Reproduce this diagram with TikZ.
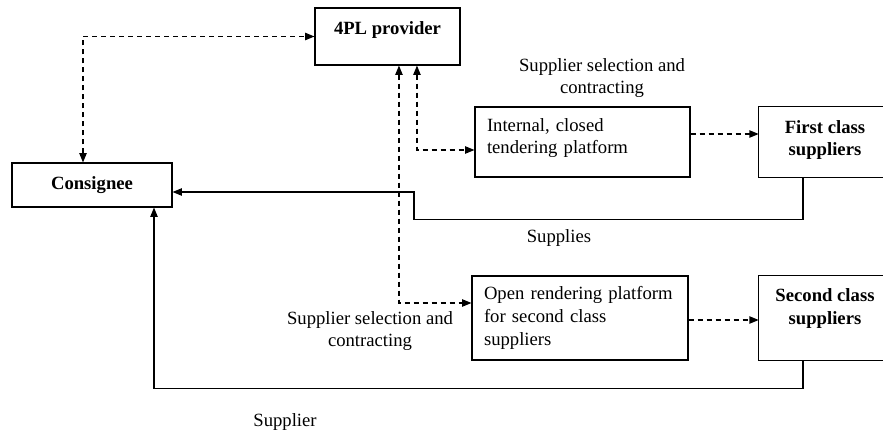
\documentclass[tikz,border=0pt]{standalone}
\usepackage{fontspec}
\setmainfont{Liberation Serif}
\usetikzlibrary{arrows.meta,positioning}

\begin{document}
\begin{tikzpicture}[x=0.75pt,y=-0.75pt,
                >={Triangle[length=7pt,width=5.5pt]},
                every node/.style = {font=\fontsize{14}{17}\selectfont},
                box/.style = {draw, rectangle, line width=0.8pt, inner sep=0pt},
                open box/.style = {rectangle, inner sep=0pt},
                bold/.style = {font=\fontsize{14}{17}\selectfont\bfseries, align=center},
                edge/.style = {line width=0.8pt},
                flow/.style = {line width=0.9pt, ->},
                link/.style = {line width=0.9pt, dash pattern=on 3.75pt off 3pt}]
                \useasboundingbox (0,0) rectangle (883,432);
                \node[box, bold, minimum width=108.75pt, minimum height=42.75pt,
                      text height=10pt, text depth=12.5pt] (prov) at (387.5,36.5) {4PL provider};
                \node[box, bold, minimum width=120pt, minimum height=33pt] (cons) at (92,185) {Consignee};
                \node[box, minimum width=161.25pt, minimum height=52.5pt, text width=143.25pt,
                      align=left, text height=10pt, text depth=26pt] (int) at (582.5,142) {Internal, closed\\tendering platform};
                \node[open box, bold, minimum width=99pt, minimum height=52.5pt,
                      text height=27pt, text depth=6.3pt] (first) at (825,142) {First class\\suppliers};
                \node[box, minimum width=162pt, minimum height=63pt,
                      text width=144pt, align=left] (open) at (580,318) {Open rendering platform\\for second class\\suppliers};
                \node[open box, bold, minimum width=99pt, minimum height=63pt,
                      text height=27pt, text depth=17.5pt] (second) at (825,318) {Second class\\suppliers};
                \draw[edge] ([xshift=30pt]first.north east) -- (first.north west) -- (first.south west) -- ([xshift=30pt]first.south east);
                \draw[edge] ([xshift=30pt]second.north east) -- (second.north west) -- (second.south west) -- ([xshift=30pt]second.south east);
                \node[align=center] (sel1) at (602,78) {Supplier selection and\\contracting};
                \node (sup1) at (559,238) {Supplies};
                \node[align=center] (sel2) at (370,331) {Supplier selection and\\contracting};
                \node (sup2) at (285,422) {Supplier};
                \draw[link, <->] ([xshift=-6.75pt]cons.north) |- (prov.west);
                \draw[link, <->] ([xshift=22.1pt]prov.south) |- ([yshift=-6pt]int.west);
                \draw[link, <->] ([xshift=8.6pt]prov.south) |- ([yshift=11.25pt]open.west);
                \draw[link, ->] ([yshift=6pt]int.east) -- ([yshift=6pt]int.east -| first.west);
                \draw[link, ->] ([yshift=-1.5pt]open.east) -- ([yshift=-1.5pt]open.east -| second.west);
                \draw[flow] ([xshift=-16.5pt]first.south) -- ++(0,42) -| (414,192) -- ([yshift=-5.25pt]cons.east);
                \draw[flow] ([xshift=-16.5pt]second.south) -- ++(0,28) -| ([xshift=46.5pt]cons.south);
            \end{tikzpicture}
\end{document}
